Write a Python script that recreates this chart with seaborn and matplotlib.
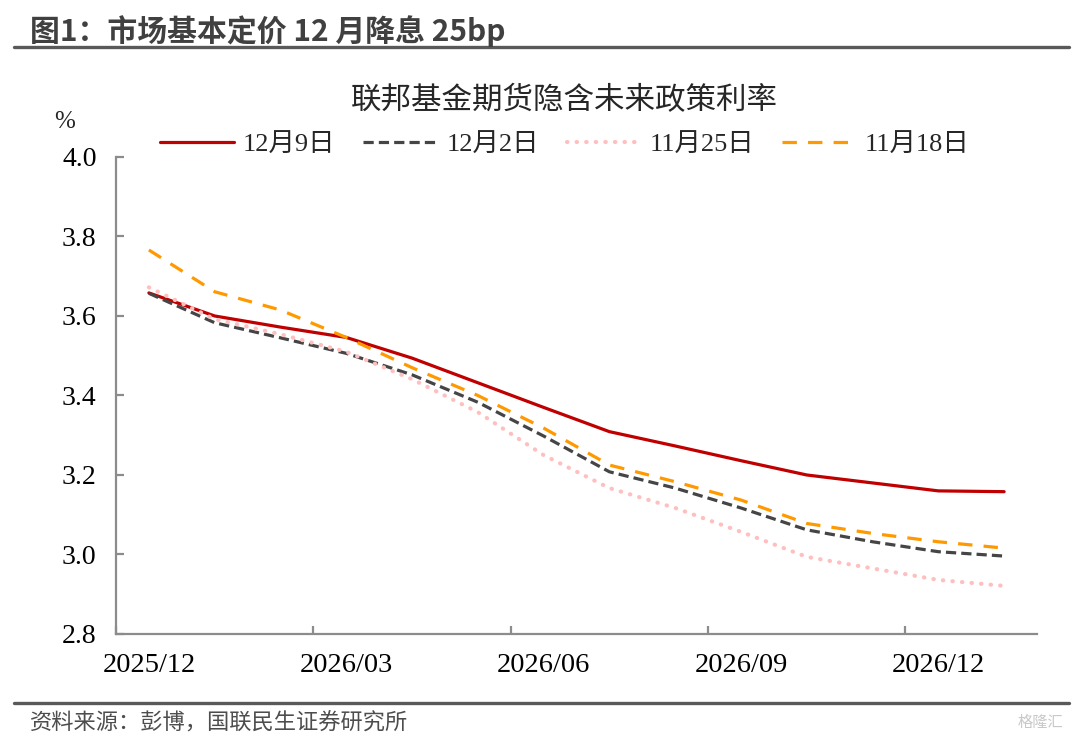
import numpy as np
import pandas as pd
import seaborn as sns
import matplotlib.pyplot as plt
from matplotlib.lines import Line2D

# monthly category axis, 2025/12 .. 2027/01
months = ['2025/12', '2026/01', '2026/02', '2026/03', '2026/04', '2026/05', '2026/06',
          '2026/07', '2026/08', '2026/09', '2026/10', '2026/11', '2026/12', '2027/01']

dec9 = [3.658, 3.600, 3.572, 3.546, 3.494, 3.432, 3.370, 3.309, 3.273, 3.236, 3.200, 3.180, 3.160, 3.158]
dec2 = [3.657, 3.583, 3.545, 3.506, 3.452, 3.383, 3.298, 3.208, 3.167, 3.117, 3.062, 3.032, 3.007, 2.996]
nov25 = [3.672, 3.592, 3.554, 3.510, 3.441, 3.358, 3.250, 3.167, 3.117, 3.057, 2.994, 2.965, 2.936, 2.921]
nov18 = [3.766, 3.661, 3.615, 3.546, 3.470, 3.400, 3.318, 3.225, 3.183, 3.137, 3.078, 3.053, 3.032, 3.016]

labels = ['12月9日', '12月2日', '11月25日', '11月18日']

sns.set_theme(style='white')
plt.rcParams['font.family'] = ['Liberation Serif', 'Noto Sans CJK SC']

fig = plt.figure(figsize=(10.8, 7.39), dpi=100)
ax = fig.add_axes([0.1074, 0.1421, 0.8528, 0.6455])

x = np.arange(len(months))
df = pd.DataFrame({'x': x, 'dec9': dec9, 'dec2': dec2, 'nov25': nov25, 'nov18': nov18})

styles = [
    ('dec9', '#C00000', '-', 2.3),
    ('dec2', '#454545', (0, (3.2, 1.6)), 2.3),
    ('nov25', '#FFBFBF', (0, (0.1, 2.2)), 3.0),
    ('nov18', '#FF9900', (0, (4.5, 3.5)), 2.3),
]
handles = []
for (col, c, ls, lw), lab in zip(styles, labels):
    sns.lineplot(data=df, x='x', y=col, ax=ax, color=c, linewidth=lw, legend=False)
    ln = ax.lines[-1]
    ln.set_linestyle(ls)
    if col == 'nov25':
        ln.set_dash_capstyle('round')
    handles.append(Line2D([], [], color=c, linestyle=ls, linewidth=lw,
                          dash_capstyle='round' if col == 'nov25' else 'butt'))

ax.set_xlim(-0.5, len(months) - 0.5)
ax.set_ylim(2.8, 4.0)
ax.set_yticks(np.arange(2.8, 4.01, 0.2))
ax.set_yticklabels([f'{v:.1f}' for v in np.arange(2.8, 4.01, 0.2)])
ax.set_xticks([-0.5, 2.5, 5.5, 8.5, 11.5])
ax.set_xticklabels([])
ax.set_xticks([0, 3, 6, 9, 12], minor=True)
ax.set_xticklabels([months[i] for i in [0, 3, 6, 9, 12]], minor=True)
ax.set_xlabel('')
ax.set_ylabel('')

for s in ['top', 'right']:
    ax.spines[s].set_visible(False)
for s in ['left', 'bottom']:
    ax.spines[s].set_color('#8c8c8c')
    ax.spines[s].set_linewidth(1.6)
ax.tick_params(axis='both', which='major', direction='in', length=6, width=1.6,
               color='#8c8c8c', labelsize=20, labelcolor='black')
ax.tick_params(axis='x', which='minor', length=0, labelsize=20.5, pad=14, labelcolor='black')
ax.tick_params(axis='y', which='major', pad=14, left=True)
ax.tick_params(axis='x', which='major', bottom=True)

fig.text(0.06, 0.835, '%', fontsize=18, ha='center', va='center')
fig.text(0.523, 0.862, '联邦基金期货隐含未来政策利率', fontsize=22, ha='center', va='center',
         family=['Liberation Serif', 'Noto Sans CJK SC'])

fig.legend(handles, labels, loc='center', bbox_to_anchor=(0.523, 0.804), ncol=4,
           frameon=False, handlelength=2.8, handletextpad=0.35,
           columnspacing=1.05, prop={'family': ['Liberation Serif', 'Noto Sans CJK SC'], 'size': 19})

# header and footer
fig.text(0.028, 0.958, '图1：市场基本定价 12 月降息 25bp', fontsize=21.5, fontweight='bold',
         color='#404040', ha='left', va='center', family=['Noto Sans CJK SC', 'DejaVu Sans'])
fig.add_artist(Line2D([0.013, 0.99], [0.936, 0.936], color='#595959', linewidth=2.4))
fig.add_artist(Line2D([0.013, 0.99], [0.049, 0.049], color='#595959', linewidth=2.4))
fig.text(0.028, 0.022, '资料来源：彭博，国联民生证券研究所', fontsize=16, color='#4d4d4d',
         ha='left', va='center', family=['Noto Sans CJK SC', 'DejaVu Sans'])
fig.text(0.985, 0.022, '格隆汇', fontsize=11, color='#c8c8c8', ha='right', va='center',
         family=['Noto Sans CJK SC', 'DejaVu Sans'])

fig.savefig('out.png', dpi=100)
